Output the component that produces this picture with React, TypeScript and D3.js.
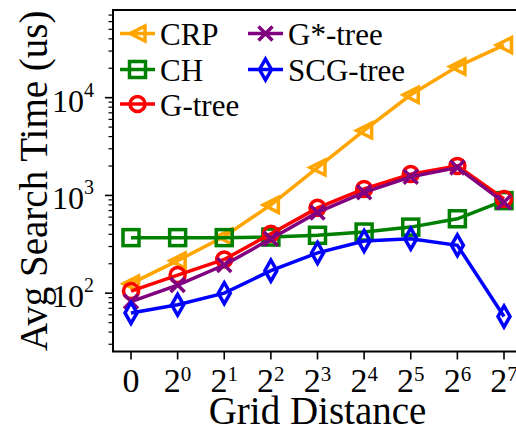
import * as d3 from 'd3';

// x positions: 0, 2^0 ... 2^7
const xLabels = ['0', '0', '1', '2', '3', '4', '5', '6', '7'];

const crp = [125, 215, 380, 800, 1930, 4620, 10700, 20800, 34500];
const ch = [370, 370, 370, 375, 391, 422, 474, 577, 885];
const gTree = [105, 153, 221, 406, 746, 1165, 1653, 2005, 920];
const gStarTree = [82, 121, 194, 360, 670, 1075, 1552, 1926, 850];
const scgTree = [62.7, 76, 100, 170, 258, 342, 361, 309, 57.8];

const series = [
  { name: 'CRP', values: crp, color: '#ffa500', marker: 'triangle' },
  { name: 'CH', values: ch, color: '#008000', marker: 'square' },
  { name: 'G-tree', values: gTree, color: '#ff0000', marker: 'circle' },
  { name: 'G*-tree', values: gStarTree, color: '#800080', marker: 'x' },
  { name: 'SCG-tree', values: scgTree, color: '#0000ff', marker: 'diamond' },
];

const yMajor = [100, 1000, 10000];

const FONT = '"Liberation Serif", "Times New Roman", serif';

function Marker({ type, x, y, color }: { type: string; x: number; y: number; color: string }) {
  const sw = 3.5;
  if (type === 'circle') return <circle cx={x} cy={y} r={7.5} fill="none" stroke={color} strokeWidth={sw} />;
  if (type === 'square') return <rect x={x - 8} y={y - 8} width={16} height={16} fill="none" stroke={color} strokeWidth={sw} />;
  if (type === 'triangle') {
    const r = 7.5;
    return <path d={`M${x - r},${y}L${x + r},${y - r}L${x + r},${y + r}Z`} fill="none" stroke={color} strokeWidth={sw} strokeLinejoin="miter" />;
  }
  if (type === 'diamond') {
    return <path d={`M${x},${y - 10.5}L${x + 6},${y}L${x},${y + 10.5}L${x - 6},${y}Z`} fill="none" stroke={color} strokeWidth={sw} />;
  }
  const r = 7;
  return <path d={`M${x - r},${y - r}L${x + r},${y + r}M${x - r},${y + r}L${x + r},${y - r}`} stroke={color} strokeWidth={sw} />;
}

export default function App() {
  const left = 113, right = 522, top = 10, bottom = 351.5;

  const x = d3.scaleLinear().domain([-0.386, 8.386]).range([left, right]);
  const y = d3.scaleLog().domain([25.3, 78900]).range([bottom, top]);

  const minor: number[] = [];
  for (let k = 1; k <= 4; k++) {
    for (let m = 2; m <= 9; m++) {
      const v = m * Math.pow(10, k);
      if (v >= 25.3 && v <= 78900) minor.push(v);
    }
  }

  const line = d3.line<number>().x((_, i) => x(i)).y(d => y(d));

  const legendCols = [
    { x0: 120, items: series.slice(0, 3) },
    { x0: 248, items: series.slice(3) },
  ];
  const rowY = [33.5, 69.5, 104];

  return (
    <svg width={516} height={430} style={{ position: 'absolute', left: 0, top: 0, background: '#fff' }} fontFamily={FONT}>
      {/* lines & markers */}
      {series.map(s => (
        <g key={s.name}>
          <path d={line(s.values) || ''} fill="none" stroke={s.color} strokeWidth={3.5} />
          {s.values.map((v, i) => (
            <Marker key={i} type={s.marker} x={x(i)} y={y(v)} color={s.color} />
          ))}
        </g>
      ))}

      {/* frame */}
      <rect x={left} y={top} width={right - left} height={bottom - top} fill="none" stroke="#000" strokeWidth={2} />

      {/* y ticks */}
      {yMajor.map(v => (
        <g key={v}>
          <line x1={left - 8} x2={left} y1={y(v)} y2={y(v)} stroke="#000" strokeWidth={1.6} />
          <text x={94} y={y(v) + 14} textAnchor="end" fontSize={32}>
            10<tspan dy={-15} fontSize={20}>{Math.round(Math.log10(v))}</tspan>
          </text>
        </g>
      ))}
      {minor.map(v => (
        <line key={v} x1={left - 4.5} x2={left} y1={y(v)} y2={y(v)} stroke="#000" strokeWidth={1.2} />
      ))}

      {/* x ticks */}
      {xLabels.map((e, i) => (
        <g key={i}>
          <line x1={x(i)} x2={x(i)} y1={bottom} y2={bottom + 8} stroke="#000" strokeWidth={1.6} />
          {i === 0 ? (
            <text x={x(i)} y={392} textAnchor="middle" fontSize={34}>0</text>
          ) : (
            <text x={x(i)} y={392} textAnchor="middle" fontSize={34}>
              2<tspan dy={-11} fontSize={21}>{e}</tspan>
            </text>
          )}
        </g>
      ))}

      {/* axis labels */}
      <text x={(left + right) / 2} y={424} textAnchor="middle" fontSize={39}>Grid Distance</text>
      <text transform={`translate(47,${(top + bottom) / 2}) rotate(-90)`} textAnchor="middle" fontSize={39}>Avg Search Time (us)</text>

      {/* legend */}
      {legendCols.map((col, ci) => (
        <g key={ci}>
          {col.items.map((s, ri) => (
            <g key={s.name}>
              <line x1={col.x0} x2={col.x0 + 35} y1={rowY[ri]} y2={rowY[ri]} stroke={s.color} strokeWidth={3.5} />
              <Marker type={s.marker} x={col.x0 + 17.5} y={rowY[ri]} color={s.color} />
              <text x={col.x0 + 40} y={rowY[ri] + 11.5} fontSize={31}>{s.name}</text>
            </g>
          ))}
        </g>
      ))}
    </svg>
  );
}
